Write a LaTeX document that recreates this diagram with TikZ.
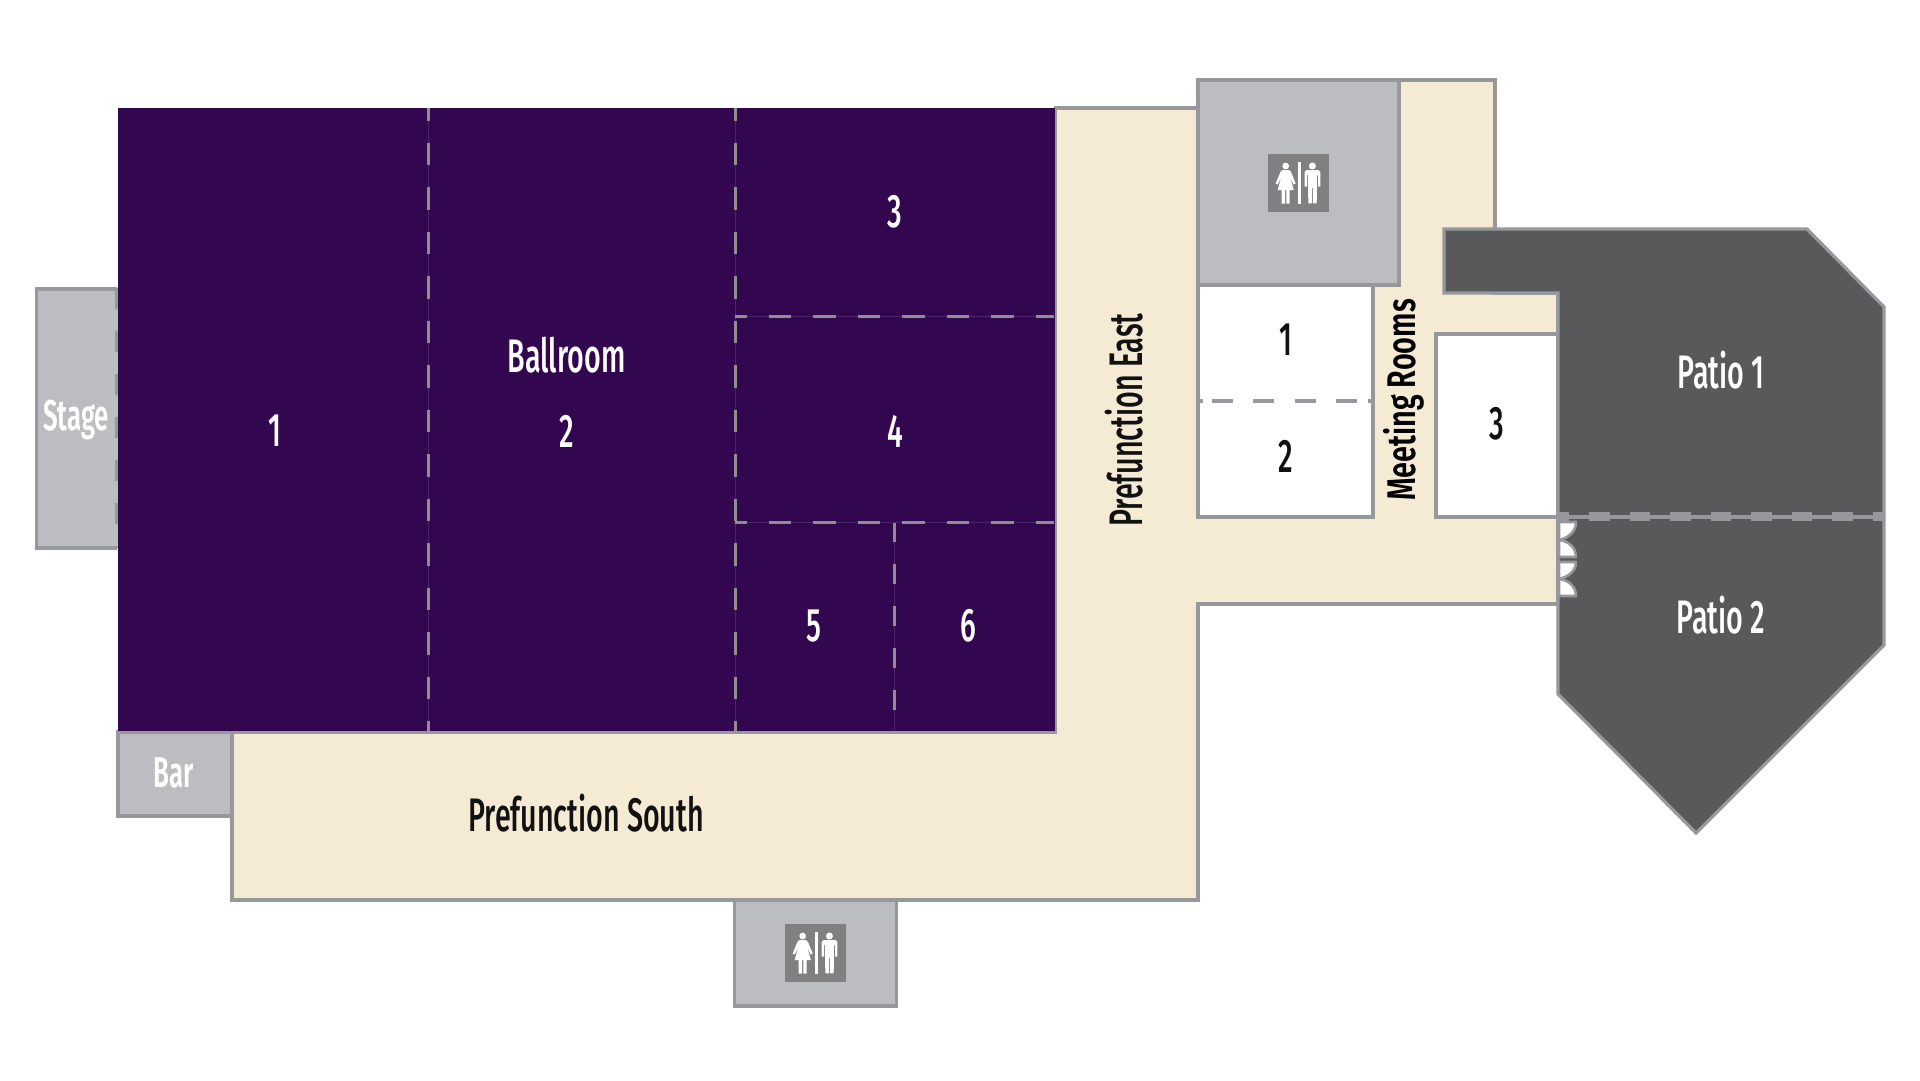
\documentclass[tikz,border=0pt]{standalone}
\usepackage{fontspec}
\newfontfamily\planfont[FakeStretch=0.61]{Fira Sans Medium}
\newfontfamily\planwide[FakeStretch=0.72]{Fira Sans SemiBold}
\newfontfamily\planbold[FakeStretch=0.6]{Fira Sans SemiBold}
\definecolor{plum}{HTML}{330650}
\definecolor{sand}{HTML}{F5EAD4}
\definecolor{edgegray}{HTML}{96989B}
\definecolor{servicegray}{HTML}{BBBDC0}
\definecolor{patiogray}{HTML}{58595B}
\definecolor{signgray}{HTML}{808082}
\definecolor{dashgray}{HTML}{8E8E90}
\definecolor{seam}{HTML}{4A2468}
\definecolor{inkblack}{HTML}{111111}
\tikzset{
  x=1pt,y=-1pt,
  wall/.style={draw=edgegray,line width=3.2pt,line join=miter},
  seamline/.style={draw=seam,line width=1pt},
  partition/.style={draw=dashgray,line width=3pt,dash pattern=on 22.5pt off 22pt},
  doorleaf/.style={draw=edgegray,line width=2.6pt,fill=white,line join=round},
  lightlabel/.style={text=white,inner sep=0pt,font=\planfont\fontsize{47}{52}\selectfont},
  darklabel/.style={text=inkblack,inner sep=0pt,font=\planfont\fontsize{47}{52}\selectfont},
  smalllabel/.style={text=white,inner sep=0pt,font=\planbold\fontsize{43}{48}\selectfont},
  widelabel/.style={text=black,inner sep=0pt,font=\planwide\fontsize{40}{44}\selectfont},
  restroomsign/.pic={
    \fill[signgray] (0,0) rectangle (61,58);
    \fill[white] (30,7.7) rectangle (33.3,50);
    % woman
    \fill[white] (17.7,12) circle (3.4);
    \fill[white] (14.5,16) -- (21,16) -- (23,18) -- (27.6,29.5) -- (25.6,30.5) -- (22.2,23)
      -- (25.8,36) -- (21.7,36) -- (21.7,49.7) -- (18.4,49.7) -- (18.4,36) -- (17,36)
      -- (17,49.7) -- (13.7,49.7) -- (13.7,36) -- (9.7,36) -- (13.2,23) -- (9.8,30.5)
      -- (7.7,29.5) -- (12.4,18) -- cycle;
    % man
    \fill[white] (44.4,12) circle (3.5);
    \fill[white] (38.5,16) -- (50.5,16) -- (52.4,18) -- (52.4,32.5) -- (50,32.5) -- (50,21)
      -- (49,21) -- (48.7,49.4) -- (45,49.4) -- (45,34) -- (44,34) -- (44,49.4) -- (40.3,49.4)
      -- (40,21) -- (39,21) -- (39,32.5) -- (36.7,32.5) -- (36.7,18) -- cycle;
  }
}
\begin{document}
\begin{tikzpicture}
\useasboundingbox (0,0) rectangle (1920,1080);
\fill[white] (0,0) rectangle (1920,1080);

% foyer
\path[wall,fill=sand] (1055.5,108) -- (1198,108) -- (1198,80) -- (1495,80) -- (1495,293)
  -- (1558,293) -- (1558,604) -- (1198,604) -- (1198,900) -- (232,900) -- (232,732) -- (1055.5,732) -- cycle;

% service rooms
\path[wall,fill=servicegray] (1198,80) rectangle (1399,285);
\path[wall,fill=servicegray] (734.5,900) rectangle (896.5,1006);
\path[wall,fill=servicegray] (118,732) rectangle (232,816);
\fill[servicegray] (36.5,289) rectangle (118,548);
\draw[wall] (117,289) -- (36.5,289) -- (36.5,548) -- (117,548);
\draw[draw=edgegray,line width=2.5pt,dash pattern=on 21pt off 22pt] (116.5,288) -- (116.5,548);

% meeting rooms
\path[wall,fill=white] (1198,285) rectangle (1373,517);
\path[wall,fill=white] (1436,334) rectangle (1558,517);
\draw[draw=edgegray,line width=4pt,dash pattern=on 5pt off 9pt on 21pt off 20pt on 21pt off 21pt on 21pt off 20pt on 21pt off 11pt on 5pt off 5pt] (1198,400.5) -- (1373,400.5);

% ballroom
\fill[plum] (118,108) rectangle (1054.5,731);
\foreach \vx in {428,735}{
  \draw[seamline] (\vx,108) -- (\vx,731);
  \draw[partition,dash phase=10pt] (\vx,108) -- (\vx,731);
}
\draw[seamline] (894,522) -- (894,731);
\draw[partition,dash pattern=on 20pt off 22pt] (894,522) -- (894,731);
\foreach \hy in {316,522}{
  \draw[seamline] (735,\hy) -- (1054,\hy);
  \draw[partition,dash phase=11pt] (735,\hy) -- (1054,\hy);
}

% patios
\path[wall,fill=patiogray] (1444,229) -- (1807,229) -- (1884,307) -- (1884,645) -- (1696,833)
  -- (1558,694) -- (1558,293) -- (1444,293) -- cycle;
\draw[draw=edgegray,line width=4pt] (1558,516.5) -- (1884,516.5);
\draw[draw=edgegray,line width=9pt,dash pattern=on 20.5pt off 20pt,dash phase=9.5pt] (1558,516.5) -- (1884,516.5);

% doors
\path[doorleaf] (1559,522) -- (1576,522) .. controls (1576,532) and (1568,538) .. (1559,540) -- cycle;
\path[doorleaf] (1559,540) .. controls (1568,541) and (1576,547) .. (1576,557) -- (1559,557) -- cycle;
\path[doorleaf] (1559,562) -- (1576,562) .. controls (1576,571) and (1568,577) .. (1559,579) -- cycle;
\path[doorleaf] (1559,579) .. controls (1568,580) and (1576,586) .. (1576,596) -- (1559,596) -- cycle;

% signs
\pic at (1268,154) {restroomsign};
\pic at (785,924) {restroomsign};

% labels
\node[lightlabel] (ballroom) at (566.5,355) {Ballroom};
\node[lightlabel] (ball1) at (274.5,431) {1};
\node[lightlabel] (ball2) at (566.5,431) {2};
\node[lightlabel] (ball3) at (895,212) {3};
\node[lightlabel] (ball4) at (895,431) {4};
\node[lightlabel] (ball5) at (814,626) {5};
\node[lightlabel] (ball6) at (968,626) {6};
\node[smalllabel] (stage) at (76,420) {Stage};
\node[smalllabel] (bar) at (174,773) {Bar};
\node[darklabel] (south) at (586,813) {Prefunction South};
\node[darklabel,rotate=90] (east) at (1124,420) {Prefunction East};
\node[widelabel,rotate=90] (meeting) at (1404,400) {Meeting Rooms};
\node[darklabel] (meet1) at (1286,340) {1};
\node[darklabel] (meet2) at (1286,456) {2};
\node[darklabel] (meet3) at (1497,424) {3};
\node[lightlabel] (patio1) at (1721,370) {Patio 1};
\node[lightlabel] (patio2) at (1721,615) {Patio 2};
\end{tikzpicture}
\end{document}
